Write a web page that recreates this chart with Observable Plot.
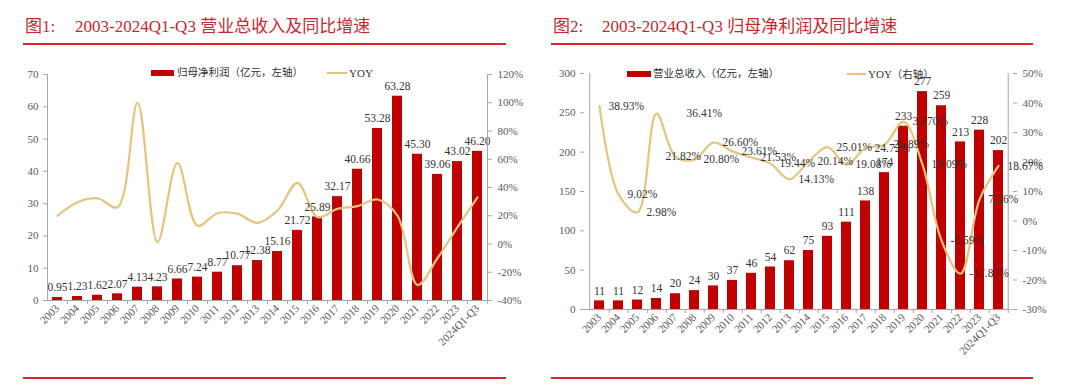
<!DOCTYPE html>
<html><head><meta charset="utf-8">
<script src="https://cdn.jsdelivr.net/npm/d3@7"></script>
<script src="https://cdn.jsdelivr.net/npm/@observablehq/plot@0.6"></script>
<style>
body{margin:0;background:#fff;}
#wrap{position:relative;width:1080px;height:386px;overflow:hidden;background:#fff;}
.chart{position:absolute;top:0;}
.title{position:absolute;top:17px;line-height:20px;font-size:17px;color:#C8282E;font-family:"Liberation Serif","Noto Sans CJK SC";white-space:nowrap;}
.rule{position:absolute;height:2px;background:#D9262B;}
.leg{position:absolute;line-height:14px;font-size:10.5px;color:#333;font-family:"Liberation Serif","Noto Sans CJK SC";white-space:nowrap;}
.sw{position:absolute;}
</style></head>
<body><div id="wrap"></div>
<script>
const categories = ["2003","2004","2005","2006","2007","2008","2009","2010","2011","2012","2013","2014","2015","2016","2017","2018","2019","2020","2021","2022","2023","2024Q1-Q3"];
// Figure 1 (left)
const profit = [0.95,1.23,1.62,2.07,4.13,4.23,6.66,7.24,8.77,10.77,12.38,15.16,21.72,25.89,32.17,40.66,53.28,63.28,45.30,39.06,43.02,46.20];
const profitYoy = [20,29.6,32.4,26,100,1.3,57.5,13,21.8,21.4,15,23.7,43.3,19,24.9,26.8,31.5,20,-29,-10,11.9,33];
const leftTicks = [0,10,20,30,40,50,60,70];
const leftPctTicks = [-40,-20,0,20,40,60,80,100,120];
// Figure 2 (right)
const revenue = [11,11,12,14,20,24,30,37,46,54,62,75,93,111,138,174,233,277,259,213,228,202];
const revenueYoy = [38.93,9.02,2.98,36.41,21.82,20.80,26.60,23.61,21.53,19.44,14.13,20.14,25.01,19.08,24.72,25.89,33.70,19.09,-6.59,-17.87,7.26,18.67];
const rightTicks = [0,50,100,150,200,250,300];
const rightPctTicks = [-30,-20,-10,0,10,20,30,40,50];

const BAR = "#C00000", LINE = "#E6C47E", AXIS = "#A6A6A6", TXT = "#333333", TICK = "#595959";
const wrap = document.getElementById("wrap");

function add(html){ wrap.insertAdjacentHTML("beforeend", html); }

// titles and rules
add(`<div class="title" style="left:25px">图1:</div><div class="title" style="left:75px">2003-2024Q1-Q3 营业总收入及同比增速</div>`);
add(`<div class="title" style="left:553px">图2:</div><div class="title" style="left:602px">2003-2024Q1-Q3 归母净利润及同比增速</div>`);
add(`<div class="rule" style="left:23px;width:483px;top:43px"></div><div class="rule" style="left:551px;width:482px;top:43px"></div>`);
add(`<div class="rule" style="left:23px;width:483px;top:377px"></div><div class="rule" style="left:551px;width:482px;top:377px"></div>`);

function makeChart(opts){
  const {values, yoy, yMax, yTicks, pMin, pMax, pTicks, mL, mR, mT, mB, fmtBar, yoyLabels} = opts;
  const data = categories.map((c,i)=>({cat:c, v:values[i], yoy:yoy[i]}));
  const toL = p => (p - pMin) / (pMax - pMin) * yMax;
  const step = (540 - mL - mR) / categories.length;
  const marks = [
    Plot.barY(data, {x:"cat", y:"v", fill:BAR}),
    Plot.line(data, {x:"cat", y:d=>toL(d.yoy), stroke:LINE, strokeWidth:2.2, curve:"catmull-rom"}),
    Plot.text(data, {x:"cat", y:"v", text:d=>fmtBar(d.v), dy:-10, fill:TXT, fontSize:11.5}),
    Plot.ruleY([0], {stroke:AXIS}),
    Plot.ruleX([categories[0]], {y1:0, y2:yMax, dx:-step/2, stroke:AXIS}),
    Plot.ruleX([categories[categories.length-1]], {y1:0, y2:yMax, dx:step/2, stroke:AXIS}),
    Plot.ruleX(categories, {y1:0, y2:-yMax*0.017, dx:step/2, stroke:AXIS}),
    Plot.axisY(yTicks, {anchor:"left", tickSize:4, tickPadding:5, label:null, stroke:AXIS, fill:TICK}),
    Plot.axisY(pTicks.map(toL), {anchor:"right", tickSize:4, tickPadding:6, label:null, stroke:AXIS, fill:TICK,
      tickFormat:d=>Math.round(d / yMax * (pMax - pMin) + pMin) + "%"}),
    Plot.axisX({tickRotate:-45, tickSize:0, tickPadding:6, label:null, fill:TICK})
  ];
  if (yoyLabels) {
    const isA = d => d.cat === "2006", isB = d => d.cat === "2007";
    const fmt = d => d.yoy.toFixed(2) + "%";
    marks.push(
      Plot.text(data.filter(d=>!isA(d)&&!isB(d)), {x:"cat", y:d=>toL(d.yoy), text:fmt, textAnchor:"start", dx:9, fill:TXT, fontSize:11.5}),
      Plot.text(data.filter(isA), {x:"cat", y:d=>toL(d.yoy), text:fmt, textAnchor:"start", dx:30, fill:TXT, fontSize:11.5}),
      Plot.text(data.filter(isB), {x:"cat", y:d=>toL(d.yoy), text:fmt, textAnchor:"start", dx:-10, fill:TXT, fontSize:11.5})
    );
  }
  return Plot.plot({
    width:540, height:386, marginLeft:mL, marginRight:mR, marginTop:mT, marginBottom:mB,
    x:{domain:categories, paddingInner:0.5, paddingOuter:0.25},
    y:{domain:[0, yMax]},
    style:{fontFamily:"'Liberation Serif', serif", fontSize:"11px", background:"transparent", color:TICK, overflow:"visible"},
    marks
  });
}

const left = makeChart({values:profit, yoy:profitYoy, yMax:70, yTicks:leftTicks, pMin:-40, pMax:120, pTicks:leftPctTicks,
  mL:47, mR:53, mT:74, mB:86, fmtBar:v=>v.toFixed(2), yoyLabels:false});
left.classList.add("chart"); left.style.left = "0px";
wrap.appendChild(left);

const right = makeChart({values:revenue, yoy:revenueYoy, yMax:300, yTicks:rightTicks, pMin:-30, pMax:50, pTicks:rightPctTicks,
  mL:44, mR:68, mT:73, mB:77, fmtBar:v=>String(v), yoyLabels:true});
right.classList.add("chart"); right.style.left = "540px";
wrap.appendChild(right);

// legends
add(`<div class="sw" style="left:151px;top:70px;width:23px;height:6px;background:${BAR}"></div>
<div class="leg" style="left:177px;top:66px">归母净利润（亿元，左轴）</div>
<div class="sw" style="left:327px;top:72px;width:20px;height:2px;background:${LINE}"></div>
<div class="leg" style="left:349px;top:66px;font-size:11px">YOY</div>`);
add(`<div class="sw" style="left:627px;top:71px;width:24px;height:6px;background:${BAR}"></div>
<div class="leg" style="left:653px;top:67px">营业总收入（亿元，左轴）</div>
<div class="sw" style="left:847px;top:73px;width:19px;height:2px;background:${LINE}"></div>
<div class="leg" style="left:868px;top:67px"><span style="font-size:11px">YOY</span>（右轴）</div>`);
</script>
</body></html>
